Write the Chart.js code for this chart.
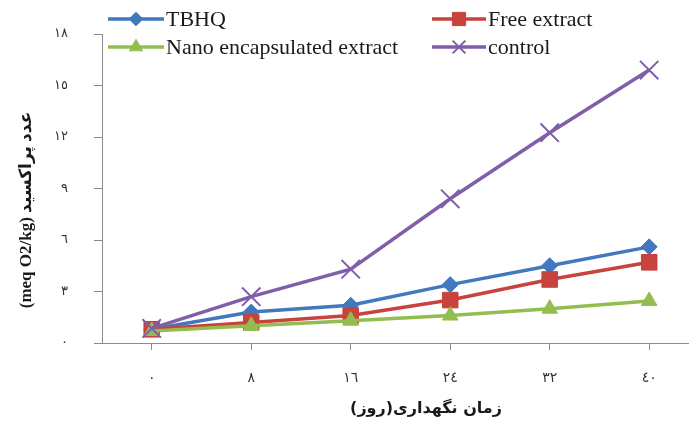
<!DOCTYPE html>
<html>
<head>
<meta charset="utf-8">
<script src="https://cdn.jsdelivr.net/npm/chart.js@4.4.1/dist/chart.umd.min.js"></script>
<style>
html,body{margin:0;padding:0;background:#fff;overflow:hidden;}
#wrap{position:relative;width:689px;height:427px;}
</style>
</head>
<body>
<div id="wrap"><canvas id="c" width="689" height="427"></canvas></div>
<script>
// ---- data ----
const days = [0, 8, 16, 24, 32, 40];
const xTickLabels = ['٠', '٨', '١٦', '٢٤', '٣٢', '٤٠'];
const yTickValues = [0, 3, 6, 9, 12, 15, 18];
const yTickLabels = ['٠', '٣', '٦', '٩', '١٢', '١٥', '١٨'];
const seriesNames = ['TBHQ', 'Free extract', 'Nano encapsulated extract', 'control'];
const tbhq = [0.8, 1.8, 2.2, 3.4, 4.5, 5.6];
const freeExtract = [0.8, 1.2, 1.6, 2.5, 3.7, 4.7];
const nanoExtract = [0.7, 1.0, 1.3, 1.6, 2.0, 2.45];
const control = [0.85, 2.7, 4.3, 8.4, 12.25, 15.9];
const xTitle = 'زمان نگهداری(روز)';
const yTitle = '(meq O2/kg) عدد پراکسید';

// ---- styles ----
const colors = ['#4178BE', '#C8423E', '#93BE4F', '#7F5FA8'];
const styles = [
  {pointStyle: 'rectRot', radius: 8, borderWidth: 1},
  {pointStyle: 'rect', radius: 11, borderWidth: 1},
  {pointStyle: 'triangle', radius: 9, borderWidth: 1},
  {pointStyle: 'crossRot', radius: 13, borderWidth: 2}
];
const allValues = [tbhq, freeExtract, nanoExtract, control];
const orders = [3, 2, 1, 0];

const datasets = allValues.map((vals, i) => ({
  label: seriesNames[i],
  data: days.map((d, j) => ({x: d, y: vals[j]})),
  borderColor: colors[i],
  backgroundColor: colors[i],
  borderWidth: 3.5,
  pointStyle: styles[i].pointStyle,
  pointRadius: styles[i].radius,
  pointBorderWidth: styles[i].borderWidth,
  pointBackgroundColor: colors[i],
  pointBorderColor: colors[i],
  tension: 0,
  order: orders[i],
  clip: false
}));

const legendPos = [
  {x1: 108, x2: 164, y: 19, tx: 166},
  {x1: 432, x2: 486, y: 19, tx: 488},
  {x1: 108, x2: 164, y: 47, tx: 166},
  {x1: 432, x2: 486, y: 47, tx: 488}
];

const overlayPlugin = {
  id: 'overlay',
  afterDraw(chart) {
    const ctx = chart.ctx;
    ctx.save();
    // legend
    legendPos.forEach((p, i) => {
      ctx.strokeStyle = colors[i];
      ctx.lineWidth = 3.5;
      ctx.beginPath();
      ctx.moveTo(p.x1, p.y);
      ctx.lineTo(p.x2, p.y);
      ctx.stroke();
      ctx.fillStyle = colors[i];
      ctx.strokeStyle = colors[i];
      ctx.lineWidth = styles[i].borderWidth;
      Chart.helpers.drawPoint(ctx, {
        pointStyle: styles[i].pointStyle,
        radius: styles[i].pointStyle === 'crossRot' ? 9 : styles[i].radius * 0.85,
        borderWidth: styles[i].borderWidth,
        rotation: 0
      }, (p.x1 + p.x2) / 2, p.y);
      ctx.fillStyle = '#1a1a1a';
      ctx.font = '22px "Liberation Serif", "Times New Roman", serif';
      ctx.textAlign = 'left';
      ctx.textBaseline = 'middle';
      ctx.fillText(seriesNames[i], p.tx, p.y + 1);
    });
    // x title
    ctx.fillStyle = '#1a1a1a';
    ctx.font = 'bold 16px "DejaVu Sans", sans-serif';
    ctx.textAlign = 'center';
    ctx.textBaseline = 'middle';
    ctx.fillText(xTitle, 426, 409);
    // y title
    ctx.translate(27, 210);
    ctx.rotate(-Math.PI / 2);
    ctx.font = 'bold 17px "Liberation Serif", "DejaVu Sans", serif';
    ctx.fillText(yTitle, 0, 0);
    ctx.restore();
  }
};

new Chart(document.getElementById('c'), {
  type: 'line',
  data: {datasets},
  options: {
    responsive: false,
    animation: false,
    layout: {autoPadding: false, padding: {left: 0, right: 0, top: 34, bottom: 0}},
    plugins: {legend: {display: false}, tooltip: {enabled: false}},
    scales: {
      x: {
        type: 'linear',
        min: -4,
        max: 43.2,
        afterBuildTicks: (scale) => { scale.ticks = days.map(v => ({value: v})); },
        afterFit: (scale) => { scale.height = 84; scale.paddingLeft = 0; scale.paddingRight = 0; },
        ticks: {
          autoSkip: false,
          maxRotation: 0,
          padding: 20,
          color: '#333',
          font: {size: 14, family: '"DejaVu Sans", sans-serif'},
          callback: (v) => { const i = days.indexOf(v); return i >= 0 ? xTickLabels[i] : ''; }
        },
        grid: {display: true, drawOnChartArea: false, drawTicks: true, tickLength: 7, color: '#8c8c8c'},
        border: {display: true, color: '#8c8c8c', width: 1}
      },
      y: {
        min: 0,
        max: 18,
        afterBuildTicks: (scale) => { scale.ticks = yTickValues.map(v => ({value: v})); },
        afterFit: (scale) => { scale.width = 102; },
        ticks: {
          padding: 26,
          color: '#333',
          font: {size: 13, family: '"DejaVu Sans", sans-serif'},
          callback: (v) => { const i = yTickValues.indexOf(v); return i >= 0 ? yTickLabels[i] : ''; }
        },
        grid: {display: true, drawOnChartArea: false, drawTicks: true, tickLength: 8, color: '#8c8c8c'},
        border: {display: true, color: '#8c8c8c', width: 1}
      }
    }
  },
  plugins: [overlayPlugin]
});
</script>
</body>
</html>
